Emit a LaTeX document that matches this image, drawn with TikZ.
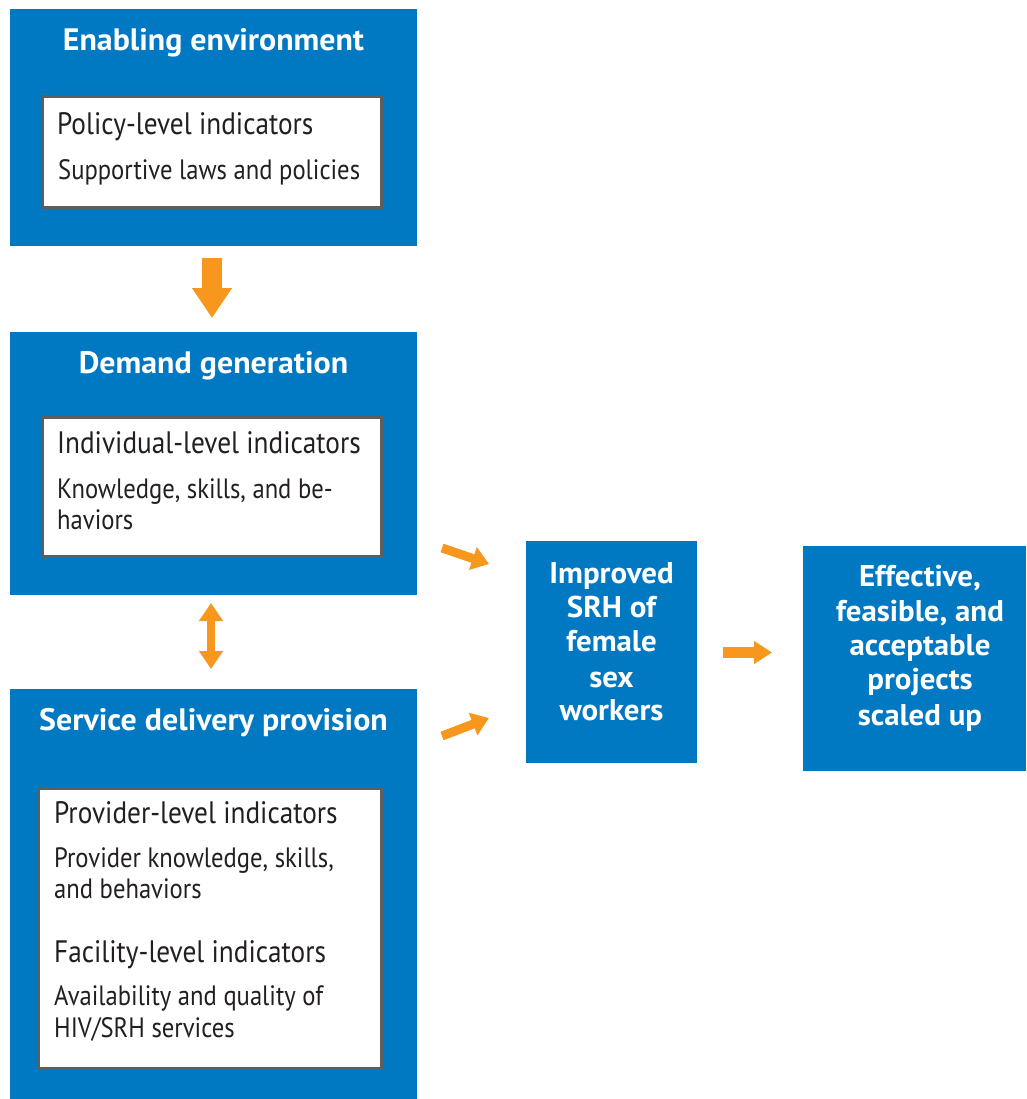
\documentclass[tikz,border=0pt]{standalone}
\usepackage{fontspec}
\setmainfont{PT Sans}[FakeStretch=0.88]
\newfontfamily\bfam{PT Sans}[FakeStretch=1.03]
\usetikzlibrary{arrows.meta}
\definecolor{fblue}{HTML}{0079C2}
\definecolor{forange}{HTML}{F7971D}
\definecolor{fgray}{HTML}{5E5E5E}
\definecolor{ftext}{HTML}{231F20}
\newcommand\ttlfont{\bfam\bfseries\fontsize{31}{34}\selectfont}
\newcommand\hdfont{\fontsize{31}{34}\selectfont}
\newcommand\bdfont{\fontsize{28}{31}\selectfont}
\newcommand\outfont{\bfam\bfseries\fontsize{30}{34}\selectfont}
\begin{document}
\begin{tikzpicture}[x=1pt,y=-1pt,
  bluebox/.style={fill=fblue,draw=none,inner sep=0,outer sep=0,anchor=north west},
  whitebox/.style={fill=white,draw=fgray,line width=3pt,inner sep=0,outer sep=0,anchor=north west},
  ttl/.style={text=white,font=\ttlfont,inner sep=0,anchor=base},
  hd/.style={text=ftext,font=\hdfont,inner sep=0,anchor=base west},
  bd/.style={text=ftext,font=\bdfont,inner sep=0,anchor=base west},
  outtxt/.style={text=white,font=\outfont,inner sep=0,anchor=base},
  bigarrow/.style={draw=forange,line width=20pt,-{Triangle[length=30pt,width=38pt]}},
  dblarrow/.style={draw=forange,line width=8pt,{Triangle[length=18pt,width=23pt]}-{Triangle[length=18pt,width=23pt]}},
  diagarrow/.style={draw=forange,line width=9pt,-{Triangle[length=17pt,width=23pt]}},
  rarrow/.style={draw=forange,line width=11pt,-{Triangle[length=18pt,width=22pt]}}
]
\useasboundingbox (0,0) rectangle (1026,1099);

% blue boxes
\node[bluebox,minimum width=407pt,minimum height=237pt] (env) at (10,9) {};
\node[bluebox,minimum width=407pt,minimum height=263pt] (dem) at (10,332) {};
\node[bluebox,minimum width=407pt,minimum height=410pt] (srv) at (10,689) {};
\node[bluebox,minimum width=171pt,minimum height=222pt] (imp) at (526,541) {};
\node[bluebox,minimum width=223pt,minimum height=225pt] (eff) at (803,546) {};

% white boxes
\node[whitebox,minimum width=339pt,minimum height=111pt] (w1) at (42,97) {};
\node[whitebox,minimum width=339pt,minimum height=139pt] (w2) at (42,417) {};
\node[whitebox,minimum width=343pt,minimum height=280pt] (w3) at (38,788) {};

% titles
\node[ttl] (t1) at (213.5,51) {Enabling environment};
\node[ttl] (t2) at (213.5,373) {Demand generation};
\node[ttl] (t3) at (213.5,730) {Service delivery provision};

% white box texts
\node[hd] (h1) at (57,135) {Policy-level indicators};
\node[bd] (b1) at (58,180) {Supportive laws and policies};
\node[hd] (h2) at (57,453) {Individual-level indicators};
\node[bd] (b2a) at (57,498) {Knowledge, skills, and be-};
\node[bd] (b2b) at (57,529) {haviors};
\node[hd] (h3) at (54,823) {Provider-level indicators};
\node[bd] (b3a) at (54,867) {Provider knowledge, skills,};
\node[bd] (b3b) at (54,898) {and behaviors};
\node[hd] (h4) at (54,962) {Facility-level indicators};
\node[bd] (b4a) at (54,1005) {Availability and quality of};
\node[bd] (b4b) at (54,1037) {HIV/SRH services};

% outcome texts
\node[outtxt] (i1) at (611.5,583) {Improved};
\node[outtxt] (i2) at (611.5,617) {SRH of};
\node[outtxt] (i3) at (611.5,651) {female};
\node[outtxt] (i4) at (611.5,687) {sex};
\node[outtxt] (i5) at (611.5,720) {workers};
\node[outtxt] (e1) at (920,586) {Effective,};
\node[outtxt] (e2) at (920,621) {feasible, and};
\node[outtxt] (e3) at (920,655) {acceptable};
\node[outtxt] (e4) at (920,689) {projects};
\node[outtxt] (e5) at (920,725) {scaled up};

% arrow end points
\coordinate (a1s) at (212,258);
\coordinate (a1e) at (212,318);
\coordinate (a2s) at (211,603);
\coordinate (a2e) at (211,669);
\coordinate (a3s) at (442,548);
\coordinate (a3e) at (489,564);
\coordinate (a4s) at (442,736);
\coordinate (a4e) at (489,718);
\coordinate (a5s) at (723,652.5);
\coordinate (a5e) at (772,652.5);

\draw[bigarrow] (a1s) -- (a1e);
\draw[dblarrow] (a2s) -- (a2e);
\draw[diagarrow] (a3s) -- (a3e);
\draw[diagarrow] (a4s) -- (a4e);
\draw[rarrow] (a5s) -- (a5e);
\end{tikzpicture}
\end{document}
